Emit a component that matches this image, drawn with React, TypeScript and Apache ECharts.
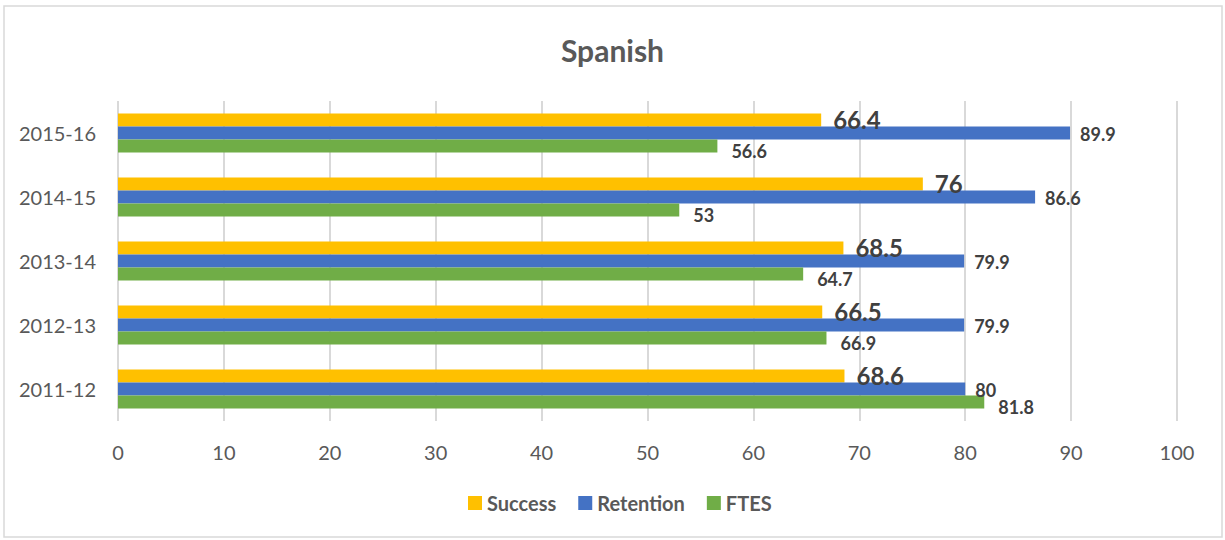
import React, { useEffect, useRef } from "react";
import * as echarts from "echarts";

const categories = ["2011-12", "2012-13", "2013-14", "2014-15", "2015-16"];
const successValues = [68.6, 66.5, 68.5, 76, 66.4];
const retentionValues = [80, 79.9, 79.9, 86.6, 89.9];
const ftesValues = [81.8, 66.9, 64.7, 53, 56.6];
const xTicks = { min: 0, max: 100, interval: 10 };
const titleText = "Spanish";

const FONT = "Lato, 'Open Sans', sans-serif";

export default function App() {
  const ref = useRef<HTMLDivElement>(null);
  useEffect(() => {
    if (!ref.current) return;
    const chart = echarts.init(ref.current, null, { renderer: "svg" });
    const labelBase = { fontFamily: FONT, fontWeight: "bold" as const, color: "#404040" };
    chart.setOption({
      animation: false,
      backgroundColor: "#ffffff",
      title: {
        text: titleText,
        left: "center",
        top: 30,
        textStyle: { fontFamily: FONT, fontSize: 30, fontWeight: "bold", color: "#595959" },
      },
      legend: {
        data: ["Success", "Retention", "FTES"],
        left: 463,
        top: 488,
        itemWidth: 14,
        itemHeight: 14,
        itemGap: 22,
        icon: "rect",
        textStyle: { fontFamily: FONT, fontSize: 20, fontWeight: "bold", color: "#595959" },
      },
      grid: { left: 118, right: 48, top: 101, bottom: 119, containLabel: false },
      xAxis: {
        type: "value",
        min: xTicks.min,
        max: xTicks.max,
        interval: xTicks.interval,
        axisLine: { show: false },
        axisTick: { show: false },
        splitLine: { show: true, lineStyle: { color: "#d9d9d9", width: 2 } },
        axisLabel: { fontFamily: FONT, fontSize: 20, color: "#595959", margin: 21 },
      },
      yAxis: {
        type: "category",
        data: categories,
        axisLine: { show: false },
        axisTick: { show: false },
        axisLabel: { fontFamily: FONT, fontSize: 20, color: "#595959", margin: 22 },
      },
      graphic: [
        {
          type: "rect",
          shape: { x: 4, y: 6, width: 1218, height: 531 },
          style: { fill: "none", stroke: "#d9d9d9", lineWidth: 1.5 },
          silent: true,
        },
      ],
      series: [
        {
          name: "Success",
          type: "bar",
          data: successValues,
          barWidth: 13,
          barGap: "0%",
          itemStyle: { color: "#FFC000" },
          label: { show: true, position: "right", distance: 12, offset: [0, -1], fontSize: 24, ...labelBase },
        },
        {
          name: "Retention",
          type: "bar",
          data: retentionValues,
          barWidth: 13,
          barGap: "0%",
          itemStyle: { color: "#4472C4" },
          label: { show: true, position: "right", distance: 10, offset: [0, 1], fontSize: 18, ...labelBase },
        },
        {
          name: "FTES",
          type: "bar",
          data: ftesValues,
          barWidth: 13,
          barGap: "0%",
          itemStyle: { color: "#70AD47" },
          label: { show: true, position: "right", distance: 14, offset: [0, 5], fontSize: 18, ...labelBase },
        },
      ],
    });
    return () => chart.dispose();
  }, []);
  return (
    <div
      ref={ref}
      style={{ position: "fixed", left: 0, top: 0, width: 1225, height: 540, background: "#fff" }}
    />
  );
}
